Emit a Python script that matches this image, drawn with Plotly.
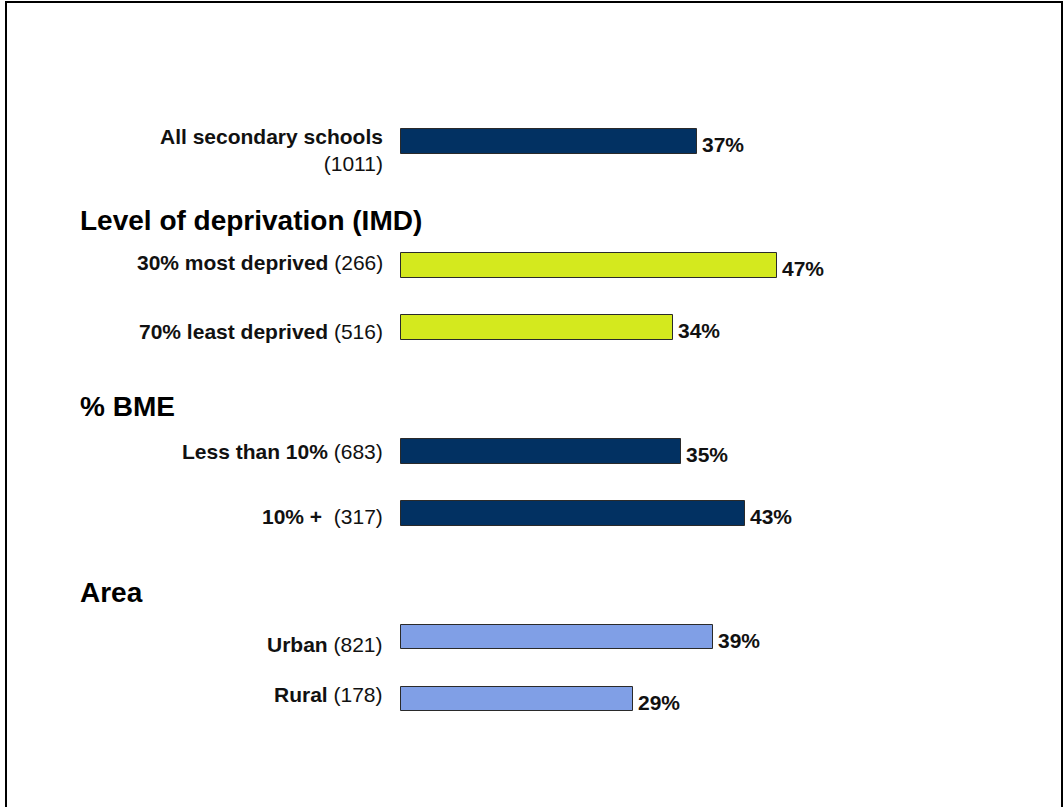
import plotly.graph_objects as go

# ---- data ----
categories = ["All secondary schools", "30% most deprived", "70% least deprived",
              "Less than 10%", "10% +", "Urban", "Rural"]
counts = [1011, 266, 516, 683, 317, 821, 178]
values = [37, 47, 34, 35, 43, 39, 29]
group_of = ["", "Level of deprivation (IMD)", "Level of deprivation (IMD)",
            "% BME", "% BME", "Area", "Area"]
group_titles = ["Level of deprivation (IMD)", "% BME", "Area"]
colors = ["#023162", "#D4E91E", "#D4E91E", "#023162", "#023162", "#809FE6", "#809FE6"]

# ---- slot layout: a header slot before each new group ----
slots = []
header_slots = {}
pos = 0
prev = None
for i, g in enumerate(group_of):
    if i > 0 and g != prev:
        header_slots[g] = pos
        pos += 1
    slots.append(pos)
    pos += 1
    prev = g

# small vertical nudges of the category labels (layout only)
label_nudge = [0.13, -0.05, 0.07, 0.0, 0.06, 0.12, -0.08]

FONT = "Arial, 'Liberation Sans', sans-serif"

fig = go.Figure()
fig.add_trace(go.Bar(
    x=values, y=slots, orientation="h", width=0.40,
    marker=dict(color=colors, line=dict(color="#2a2a2a", width=1)),
    hoverinfo="skip", showlegend=False,
))

annotations = []
for i, (c, n, v, s) in enumerate(zip(categories, counts, values, slots)):
    annotations.append(dict(x=v, y=s + 0.05, text=f"<b>{v}%</b>", xanchor="left",
                            yanchor="middle", xshift=3, showarrow=False,
                            font=dict(family=FONT, size=21, color="#111111")))
    if i == 0:
        txt = f"<b>{c}</b><br>({n})"
    elif c == "10% +":
        txt = f"<b>{c}</b>  ({n})"
    else:
        txt = f"<b>{c}</b> ({n})"
    annotations.append(dict(x=0, y=s + label_nudge[i], text=txt, xanchor="right",
                            yanchor="middle", align="right", xshift=-16, showarrow=False,
                            font=dict(family=FONT, size=21, color="#111111")))

for g in group_titles:
    annotations.append(dict(x=-40, y=header_slots[g] + 0.28, text=f"<b>{g}</b>",
                            xanchor="left", yanchor="middle", xshift=-3, showarrow=False,
                            font=dict(family=FONT, size=28, color="#000000")))

W, H = 1064, 807
x0px, pxper = 401.0, 8.0
y0px, ypx = 141.5, 61.94

fig.update_layout(
    width=W, height=H,
    margin=dict(l=0, r=0, t=0, b=0),
    paper_bgcolor="white", plot_bgcolor="white",
    xaxis=dict(range=[-x0px / pxper, (W - x0px) / pxper], visible=False, fixedrange=True),
    yaxis=dict(range=[(H - y0px) / ypx, -y0px / ypx], visible=False, fixedrange=True),
    annotations=annotations,
    shapes=[dict(type="rect", xref="paper", yref="paper",
                 x0=6 / W, x1=1062 / W, y0=-0.02, y1=1 - 2 / H,
                 line=dict(color="black", width=2), fillcolor="rgba(0,0,0,0)")],
    bargap=0,
)

fig.write_html("out.html", config={"displayModeBar": False},
               post_script="document.body.style.margin='0';document.body.style.overflow='hidden';")
